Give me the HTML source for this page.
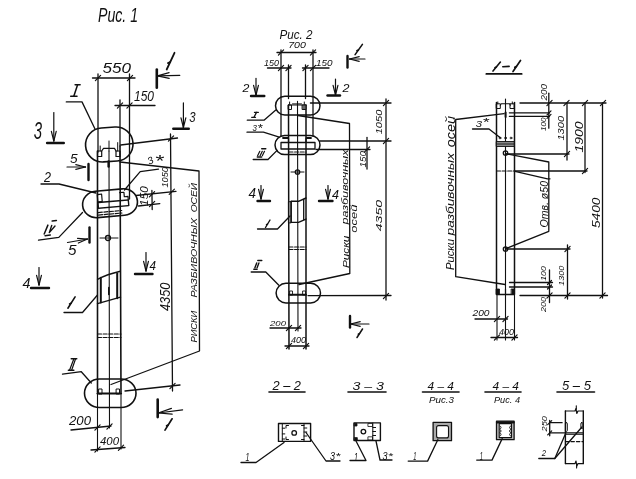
<!DOCTYPE html>
<html><head><meta charset="utf-8"><style>
html,body{margin:0;padding:0;background:#fff;}
body{width:636px;height:479px;overflow:hidden;}
svg{display:block;will-change:transform;}
svg text{font-family:"Liberation Sans",sans-serif;fill:#111;stroke:none;}
</style></head><body>
<svg width="636" height="479" viewBox="0 0 636 479" stroke="#111" stroke-linecap="round" stroke-linejoin="round" font-family="Liberation Sans, sans-serif">
<text x="98" y="22" font-size="21.01" textLength="40" lengthAdjust="spacingAndGlyphs" font-style="italic" font-weight="normal" font-family="Liberation Sans">Рис. 1</text>
<text x="102.5" y="72.5" font-size="14.49" textLength="28.5" lengthAdjust="spacingAndGlyphs" font-style="italic" font-weight="normal" font-family="Liberation Sans">550</text>
<line x1="92.5" y1="78" x2="135" y2="78" stroke-width="1.3"/>
<line x1="95.4" y1="80.6" x2="100.6" y2="75.4" stroke-width="1.2"/>
<line x1="127.4" y1="80.6" x2="132.6" y2="75.4" stroke-width="1.2"/>
<line x1="98" y1="74" x2="98" y2="152" stroke-width="1.3"/>
<line x1="129.5" y1="74" x2="129.5" y2="199" stroke-width="1.3"/>
<text x="134" y="101" font-size="13.77" textLength="20" lengthAdjust="spacingAndGlyphs" font-style="italic" font-weight="normal" font-family="Liberation Sans">150</text>
<line x1="115" y1="105.5" x2="155" y2="105.5" stroke-width="1.3"/>
<line x1="117.4" y1="108.1" x2="122.6" y2="102.9" stroke-width="1.2"/>
<line x1="126.9" y1="108.1" x2="132.1" y2="102.9" stroke-width="1.2"/>
<line x1="120" y1="100" x2="120" y2="146" stroke-width="1.3"/>
<line x1="75.1" y1="84.8" x2="80.1" y2="84.8" stroke-width="1.5"/>
<line x1="77.6" y1="84.8" x2="73.8" y2="96.3" stroke-width="1.5"/>
<line x1="70.7" y1="96.3" x2="77" y2="96.3" stroke-width="1.5"/>
<path d="M66.3,101.9 L82,101.9 L95,129" stroke-width="1.3" fill="none"/>
<g transform="rotate(-4 109 144)">
<rect x="85.5" y="127.5" width="47.5" height="34" rx="17" ry="17" stroke-width="1.6" fill="none"/>
</g>
<rect x="97.5" y="151" width="4.2" height="5.5" rx="0" stroke-width="1.2" fill="none"/>
<rect x="116" y="151" width="4" height="5.5" rx="0" stroke-width="1.2" fill="none"/>
<path d="M101.7,151 L103.5,148.4 L114.5,148.4 L116,151" stroke-width="1.2" fill="none"/>
<line x1="100.2" y1="146" x2="100.2" y2="151" stroke-width="1"/>
<line x1="117.7" y1="142.6" x2="117.7" y2="151" stroke-width="1"/>
<line x1="109" y1="141" x2="109" y2="151" stroke-width="1"/>
<line x1="97.5" y1="151" x2="97.5" y2="392" stroke-width="1.6"/>
<line x1="120" y1="146" x2="121" y2="392" stroke-width="1.6"/>
<line x1="109" y1="151" x2="109.5" y2="428" stroke-width="1.1"/>
<line x1="108.6" y1="161.5" x2="108.6" y2="166.5" stroke-width="2.4"/>
<line x1="120.7" y1="145" x2="177.5" y2="138" stroke-width="1.3"/>
<line x1="168.4" y1="141.1" x2="173.6" y2="135.9" stroke-width="1.2"/>
<line x1="170.5" y1="134" x2="172.5" y2="391" stroke-width="1.3"/>
<text x="168" y="187.6" font-size="9.71" textLength="20.5" lengthAdjust="spacingAndGlyphs" font-style="italic" font-weight="normal" transform="rotate(-90 168 187.6)">1050</text>
<line x1="136" y1="195.5" x2="176" y2="191.3" stroke-width="1.3"/>
<line x1="169.2" y1="194.3" x2="174.4" y2="189.1" stroke-width="1.2"/>
<text x="170" y="311" font-size="14.49" textLength="28.5" lengthAdjust="spacingAndGlyphs" font-style="italic" font-weight="normal" transform="rotate(-90 170 311)">4350</text>
<text x="147.6" y="163.8" font-size="9.86" textLength="5.6" lengthAdjust="spacingAndGlyphs" font-style="italic" font-weight="normal" font-family="Liberation Sans" transform="rotate(-25 150.4 160.3)">3</text>
<text x="154.6" y="166.56" font-size="17.38" textLength="9" lengthAdjust="spacingAndGlyphs" font-style="italic">*</text>
<path d="M124.5,190 L140.2,171.6 L158.5,169.2" stroke-width="1.3" fill="none"/>
<path d="M120,162 L199,171 L199.5,351 L111,384.5" stroke-width="1.3" fill="none"/>
<text x="197" y="342.6" font-size="8.5" textLength="31.9" lengthAdjust="spacingAndGlyphs" font-style="italic" transform="rotate(-90 197 342.6)">РИСКИ</text>
<text x="197" y="297.6" font-size="8.5" textLength="79.7" lengthAdjust="spacingAndGlyphs" font-style="italic" transform="rotate(-90 197 297.6)">РАЗБИВОЧНЫХ</text>
<text x="197" y="212.3" font-size="8.5" textLength="29.3" lengthAdjust="spacingAndGlyphs" font-style="italic" transform="rotate(-90 197 212.3)">ОСЕЙ</text>
<text x="33.8" y="138.8" font-size="24.2" textLength="8.3" lengthAdjust="spacingAndGlyphs" font-style="italic" font-weight="normal" font-family="Liberation Sans">3</text>
<line x1="53.8" y1="112.5" x2="53.8" y2="141" stroke-width="1.2"/>
<line x1="53.8" y1="141" x2="51.38" y2="131.3" stroke-width="1.2"/>
<line x1="53.8" y1="141" x2="56.22" y2="131.3" stroke-width="1.2"/>
<line x1="47.1" y1="143" x2="63.8" y2="143" stroke-width="2.4"/>
<line x1="183.4" y1="102.9" x2="183.4" y2="127.5" stroke-width="1.2"/>
<line x1="183.4" y1="127.5" x2="180.98" y2="117.8" stroke-width="1.2"/>
<line x1="183.4" y1="127.5" x2="185.82" y2="117.8" stroke-width="1.2"/>
<line x1="173.3" y1="128.8" x2="188.8" y2="128.8" stroke-width="2.4"/>
<text x="189.2" y="122.2" font-size="15.22" textLength="6.3" lengthAdjust="spacingAndGlyphs" font-style="italic" font-weight="normal" font-family="Liberation Sans">3</text>
<line x1="174.5" y1="52.8" x2="166.7" y2="69.5" stroke-width="1.8"/>
<line x1="170.21" y1="61.98" x2="168" y2="63.09" stroke-width="1.8"/>
<line x1="179.8" y1="75.3" x2="157.5" y2="75.8" stroke-width="1.2"/>
<line x1="157.5" y1="75.8" x2="169.08" y2="72.64" stroke-width="1.2"/>
<line x1="157.5" y1="75.8" x2="169.21" y2="78.44" stroke-width="1.2"/>
<line x1="156.8" y1="69.5" x2="156.8" y2="87.8" stroke-width="2.6"/>
<text x="70" y="162.6" font-size="12.75" textLength="7.6" lengthAdjust="spacingAndGlyphs" font-style="italic" font-weight="normal" font-family="Liberation Sans">5</text>
<line x1="67" y1="167" x2="85.5" y2="167" stroke-width="1.2"/>
<line x1="85.5" y1="167" x2="75.8" y2="169.42" stroke-width="1.2"/>
<line x1="85.5" y1="167" x2="75.8" y2="164.58" stroke-width="1.2"/>
<line x1="88.5" y1="164" x2="88.5" y2="180" stroke-width="2.4"/>
<text x="68" y="255" font-size="14.49" textLength="8.5" lengthAdjust="spacingAndGlyphs" font-style="italic" font-weight="normal" font-family="Liberation Sans">5</text>
<line x1="67.5" y1="242.5" x2="87.5" y2="239" stroke-width="1.2"/>
<line x1="87.5" y1="239" x2="78.36" y2="243.06" stroke-width="1.2"/>
<line x1="87.5" y1="239" x2="77.53" y2="238.29" stroke-width="1.2"/>
<line x1="89.5" y1="227.5" x2="89.5" y2="242.5" stroke-width="2.4"/>
<text x="44" y="182" font-size="14.49" textLength="7" lengthAdjust="spacingAndGlyphs" font-style="italic" font-weight="normal" font-family="Liberation Sans">2</text>
<path d="M41,184 L59,184 L96,193" stroke-width="1.3" fill="none"/>
<g transform="rotate(-5 110 203)">
<rect x="82.5" y="190" width="55" height="26.5" rx="14" ry="13.25" stroke-width="1.6" fill="none"/>
<rect x="98" y="201.5" width="30.5" height="5.7" rx="0" stroke-width="1.4" fill="none"/>
<rect x="98" y="193.5" width="4.4" height="7.3" rx="0" stroke-width="1.2" fill="none"/>
<path d="M120.5,193.5 L124.8,193.5 L124.8,198 L128.5,198 L128.5,201.5" stroke-width="1.2" fill="none"/>
<line x1="97.5" y1="211.5" x2="121" y2="211.5" stroke-width="1.2" stroke-dasharray="4 1.6"/>
<line x1="97.5" y1="214" x2="121" y2="214" stroke-width="1.2" stroke-dasharray="4 1.6"/>
</g>
<text x="148.5" y="205.9" font-size="11.01" textLength="19.6" lengthAdjust="spacingAndGlyphs" font-style="italic" font-weight="normal" transform="rotate(-90 148.5 205.9)">150</text>
<line x1="151.9" y1="190.5" x2="152.2" y2="209.5" stroke-width="1.3"/>
<line x1="149.4" y1="196.8" x2="154.6" y2="191.6" stroke-width="1.2"/>
<line x1="149.5" y1="206.6" x2="154.7" y2="201.4" stroke-width="1.2"/>
<line x1="138.5" y1="206" x2="159.8" y2="203.6" stroke-width="1.3"/>
<line x1="52.2" y1="221.1" x2="56.4" y2="220.4" stroke-width="1.5"/>
<line x1="47.9" y1="225.1" x2="44.2" y2="234" stroke-width="1.5"/>
<path d="M51.7,225.5 L49.3,232.6 L55,226" stroke-width="1.4" fill="none"/>
<line x1="45.1" y1="235.7" x2="50.3" y2="235" stroke-width="1.5"/>
<path d="M38.5,240.2 L58.8,237.4 L82.5,212.5" stroke-width="1.3" fill="none"/>
<circle cx="108" cy="238" r="2.5" stroke-width="1.3" fill="none"/>
<line x1="100" y1="238" x2="118" y2="238" stroke-width="1"/>
<text x="22.5" y="288" font-size="15.22" textLength="8" lengthAdjust="spacingAndGlyphs" font-style="italic" font-weight="normal" font-family="Liberation Sans">4</text>
<line x1="39" y1="267.5" x2="39" y2="285" stroke-width="1.2"/>
<line x1="39" y1="285" x2="36.58" y2="275.3" stroke-width="1.2"/>
<line x1="39" y1="285" x2="41.42" y2="275.3" stroke-width="1.2"/>
<line x1="31" y1="288" x2="49" y2="288" stroke-width="2.4"/>
<line x1="146" y1="252.5" x2="146" y2="271" stroke-width="1.2"/>
<line x1="146" y1="271" x2="143.58" y2="261.3" stroke-width="1.2"/>
<line x1="146" y1="271" x2="148.42" y2="261.3" stroke-width="1.2"/>
<line x1="135" y1="274" x2="152.5" y2="274" stroke-width="2.4"/>
<text x="149.5" y="270" font-size="13.04" textLength="6.5" lengthAdjust="spacingAndGlyphs" font-style="italic" font-weight="normal" font-family="Liberation Sans">4</text>
<path d="M97.5,279.3 Q107,274.5 120.3,271.3" stroke-width="1.4" fill="none"/>
<line x1="100.8" y1="277.7" x2="100.8" y2="302.6" stroke-width="2"/>
<line x1="117.2" y1="273.5" x2="117.2" y2="298.3" stroke-width="2"/>
<line x1="97.5" y1="303.6" x2="120.5" y2="297.2" stroke-width="1.4"/>
<line x1="108.8" y1="287.5" x2="108.8" y2="294.5" stroke-width="1.6"/>
<line x1="75.1" y1="296.9" x2="67.9" y2="308.2" stroke-width="1.6"/>
<line x1="71.14" y1="303.12" x2="69.53" y2="303.92" stroke-width="1.6"/>
<path d="M64,312.5 L82.5,312.5 L97.5,295" stroke-width="1.3" fill="none"/>
<line x1="97.5" y1="334" x2="121" y2="334" stroke-width="1.2" stroke-dasharray="4 1.6"/>
<line x1="97.5" y1="337.5" x2="121" y2="337.5" stroke-width="1.2" stroke-dasharray="4 1.6"/>
<rect x="84.5" y="379" width="51.5" height="28.5" rx="15" ry="14.25" stroke-width="1.6" fill="none"/>
<line x1="97.5" y1="393.5" x2="121" y2="393.5" stroke-width="2.2"/>
<rect x="99" y="389" width="3" height="5" rx="0" stroke-width="1" fill="none"/>
<rect x="116.5" y="389" width="3" height="5" rx="0" stroke-width="1" fill="none"/>
<line x1="109.5" y1="384" x2="109.5" y2="392" stroke-width="1"/>
<line x1="71.3" y1="358.8" x2="76.7" y2="358.8" stroke-width="1.6"/>
<line x1="73.8" y1="359" x2="69.6" y2="370" stroke-width="1.2"/>
<line x1="75.5" y1="359" x2="71.7" y2="370" stroke-width="1.2"/>
<line x1="68.4" y1="370.2" x2="73.8" y2="370.2" stroke-width="1.6"/>
<path d="M62.5,374.2 L81.3,371.7 L91.3,383" stroke-width="1.3" fill="none"/>
<line x1="125" y1="391" x2="180" y2="385" stroke-width="1.3"/>
<line x1="169.9" y1="388.6" x2="175.1" y2="383.4" stroke-width="1.2"/>
<line x1="97.5" y1="392" x2="97.5" y2="451" stroke-width="1.1"/>
<line x1="121" y1="392" x2="121" y2="449" stroke-width="1.1"/>
<text x="69" y="425" font-size="13.04" textLength="22" lengthAdjust="spacingAndGlyphs" font-style="italic" font-weight="normal" font-family="Liberation Sans">200</text>
<line x1="71" y1="430" x2="111" y2="426" stroke-width="1.3"/>
<line x1="94.9" y1="430.1" x2="100.1" y2="424.9" stroke-width="1.2"/>
<line x1="106.9" y1="429.1" x2="112.1" y2="423.9" stroke-width="1.2"/>
<text x="100" y="445" font-size="11.59" textLength="19" lengthAdjust="spacingAndGlyphs" font-style="italic" font-weight="normal" font-family="Liberation Sans">400</text>
<line x1="91" y1="450" x2="125" y2="447.5" stroke-width="1.3"/>
<line x1="94.9" y1="452.1" x2="100.1" y2="446.9" stroke-width="1.2"/>
<line x1="118.4" y1="450.3" x2="123.6" y2="445.1" stroke-width="1.2"/>
<line x1="157.7" y1="399.6" x2="157.7" y2="417.1" stroke-width="2.6"/>
<line x1="182.6" y1="409.9" x2="158.2" y2="413" stroke-width="1.2"/>
<line x1="158.2" y1="413" x2="171.42" y2="408.39" stroke-width="1.2"/>
<line x1="158.2" y1="413" x2="172.15" y2="414.16" stroke-width="1.2"/>
<line x1="172.1" y1="418.8" x2="165" y2="430.1" stroke-width="1.7"/>
<line x1="168.19" y1="425.02" x2="166.59" y2="425.82" stroke-width="1.7"/>
<text x="279.5" y="39" font-size="13.04" textLength="33" lengthAdjust="spacingAndGlyphs" font-style="italic" font-weight="normal" font-family="Liberation Sans">Рис. 2</text>
<text x="288.2" y="48.3" font-size="8.41" textLength="17.7" lengthAdjust="spacingAndGlyphs" font-style="italic" font-weight="normal" font-family="Liberation Sans">700</text>
<line x1="277" y1="52.5" x2="316" y2="52.5" stroke-width="1.3"/>
<line x1="278.4" y1="55.1" x2="283.6" y2="49.9" stroke-width="1.2"/>
<line x1="310.4" y1="55.1" x2="315.6" y2="49.9" stroke-width="1.2"/>
<line x1="281" y1="50" x2="281" y2="136" stroke-width="1.3"/>
<line x1="313" y1="50" x2="313" y2="136" stroke-width="1.3"/>
<text x="264" y="66" font-size="9.42" textLength="15" lengthAdjust="spacingAndGlyphs" font-style="italic" font-weight="normal" font-family="Liberation Sans">150</text>
<text x="316" y="66" font-size="9.42" textLength="16.5" lengthAdjust="spacingAndGlyphs" font-style="italic" font-weight="normal" font-family="Liberation Sans">150</text>
<line x1="267.5" y1="68" x2="291" y2="68" stroke-width="1.3"/>
<line x1="302.5" y1="68" x2="329" y2="68" stroke-width="1.3"/>
<line x1="278.4" y1="70.6" x2="283.6" y2="65.4" stroke-width="1.2"/>
<line x1="285.9" y1="70.6" x2="291.1" y2="65.4" stroke-width="1.2"/>
<line x1="302.9" y1="70.6" x2="308.1" y2="65.4" stroke-width="1.2"/>
<line x1="310.4" y1="70.6" x2="315.6" y2="65.4" stroke-width="1.2"/>
<line x1="288.5" y1="65" x2="288.5" y2="98.5" stroke-width="1.3"/>
<line x1="288.5" y1="105" x2="289" y2="349" stroke-width="1.5"/>
<line x1="305.5" y1="65" x2="305.5" y2="98.5" stroke-width="1.3"/>
<line x1="306" y1="105" x2="306" y2="349" stroke-width="1.5"/>
<line x1="297.5" y1="101.4" x2="298" y2="331" stroke-width="1.1"/>
<rect x="275.5" y="96.3" width="44.5" height="18.7" rx="9.35" ry="9.35" stroke-width="1.5" fill="none"/>
<line x1="288.5" y1="105" x2="306" y2="105" stroke-width="1.2"/>
<rect x="288.5" y="105" width="3" height="4.5" rx="0" stroke-width="1" fill="none"/>
<rect x="302.5" y="105" width="3.5" height="4.5" rx="0" stroke-width="1" fill="#666"/>
<line x1="292.5" y1="103.9" x2="301.5" y2="103.9" stroke-width="1"/>
<line x1="289.6" y1="102" x2="289.6" y2="104.5" stroke-width="1"/>
<line x1="304.3" y1="102" x2="304.3" y2="104.5" stroke-width="1"/>
<text x="242.6" y="92" font-size="11.59" textLength="6.9" lengthAdjust="spacingAndGlyphs" font-style="italic" font-weight="normal" font-family="Liberation Sans">2</text>
<line x1="256" y1="78.4" x2="256" y2="95" stroke-width="1.2"/>
<line x1="256" y1="95" x2="253.58" y2="85.3" stroke-width="1.2"/>
<line x1="256" y1="95" x2="258.42" y2="85.3" stroke-width="1.2"/>
<line x1="251" y1="96" x2="264.3" y2="96" stroke-width="2.4"/>
<line x1="335.5" y1="79" x2="335.5" y2="95" stroke-width="1.2"/>
<line x1="335.5" y1="95" x2="333.08" y2="85.3" stroke-width="1.2"/>
<line x1="335.5" y1="95" x2="337.92" y2="85.3" stroke-width="1.2"/>
<line x1="327.5" y1="95.5" x2="340" y2="95.5" stroke-width="2.4"/>
<text x="342.5" y="92" font-size="11.59" textLength="7" lengthAdjust="spacingAndGlyphs" font-style="italic" font-weight="normal" font-family="Liberation Sans">2</text>
<line x1="362.4" y1="44.4" x2="355.1" y2="54.6" stroke-width="1.6"/>
<line x1="358.38" y1="50.01" x2="356.88" y2="50.76" stroke-width="1.6"/>
<line x1="365" y1="59" x2="349.5" y2="59" stroke-width="1.2"/>
<line x1="349.5" y1="59" x2="359.2" y2="56.58" stroke-width="1.2"/>
<line x1="349.5" y1="59" x2="359.2" y2="61.42" stroke-width="1.2"/>
<line x1="347.5" y1="56" x2="347.5" y2="67.5" stroke-width="2.4"/>
<line x1="254.5" y1="112.4" x2="258.3" y2="112.4" stroke-width="1.3"/>
<line x1="256.5" y1="112.4" x2="254" y2="117.3" stroke-width="1.3"/>
<line x1="251.7" y1="117.3" x2="255.5" y2="117.3" stroke-width="1.3"/>
<path d="M247.3,120.2 L264,120.2 L275.5,110.2" stroke-width="1.3" fill="none"/>
<text x="252.4" y="131.4" font-size="9.42" textLength="4.4" lengthAdjust="spacingAndGlyphs" font-style="italic" font-weight="normal" font-family="Liberation Sans">3</text>
<text x="257.3" y="132.05" font-size="10.54" textLength="5.2" lengthAdjust="spacingAndGlyphs" font-style="italic">*</text>
<path d="M247,132.2 L263.4,132.2 L278.5,136.8" stroke-width="1.3" fill="none"/>
<line x1="310.4" y1="103" x2="391" y2="103" stroke-width="1.3"/>
<line x1="383.4" y1="105.6" x2="388.6" y2="100.4" stroke-width="1.2"/>
<line x1="386" y1="99" x2="386" y2="300" stroke-width="1.3"/>
<text x="381.7" y="134.3" font-size="9.42" textLength="24.7" lengthAdjust="spacingAndGlyphs" font-style="italic" font-weight="normal" transform="rotate(-90 381.7 134.3)">1050</text>
<path d="M298,115.5 L349.5,123.5 L349.8,273.5 L299,284.5" stroke-width="1.3" fill="none"/>
<rect x="275" y="135.5" width="45" height="19" rx="9.5" ry="9.5" stroke-width="1.5" fill="none"/>
<rect x="281" y="142.5" width="34" height="6.5" rx="0" stroke-width="1.3" fill="none"/>
<line x1="283" y1="138" x2="288" y2="138" stroke-width="1.8"/>
<line x1="306.8" y1="138" x2="311" y2="138" stroke-width="1.8"/>
<line x1="288.5" y1="138" x2="288.5" y2="142.5" stroke-width="1.2"/>
<line x1="306" y1="138" x2="306" y2="142.5" stroke-width="1.2"/>
<line x1="320" y1="141" x2="391" y2="141" stroke-width="1.3"/>
<line x1="383.4" y1="143.6" x2="388.6" y2="138.4" stroke-width="1.2"/>
<line x1="316" y1="149.5" x2="370" y2="149.5" stroke-width="1.3"/>
<line x1="364.4" y1="152.1" x2="369.6" y2="146.9" stroke-width="1.2"/>
<line x1="367" y1="137.5" x2="367" y2="169" stroke-width="1.3"/>
<text x="366" y="167.5" font-size="8.7" textLength="16.5" lengthAdjust="spacingAndGlyphs" font-style="italic" font-weight="normal" transform="rotate(-90 366 167.5)">150</text>
<line x1="289" y1="152" x2="306" y2="152" stroke-width="1.2" stroke-dasharray="4 1.6"/>
<line x1="261.7" y1="148.8" x2="265.8" y2="148.8" stroke-width="1.4"/>
<line x1="259.8" y1="151.3" x2="257.6" y2="155.7" stroke-width="1.2"/>
<line x1="262.3" y1="151.3" x2="260.1" y2="155.7" stroke-width="1.2"/>
<line x1="264.5" y1="151.3" x2="262.3" y2="155.7" stroke-width="1.2"/>
<line x1="257.3" y1="157" x2="261.7" y2="157" stroke-width="1.4"/>
<path d="M253.2,159.5 L268,159.5 L277.1,150.4" stroke-width="1.3" fill="none"/>
<circle cx="297.5" cy="172" r="2.2" stroke-width="1.3" fill="none"/>
<line x1="291" y1="172" x2="304" y2="172" stroke-width="1"/>
<text x="248.5" y="197.8" font-size="13.77" textLength="7.5" lengthAdjust="spacingAndGlyphs" font-style="italic" font-weight="normal" font-family="Liberation Sans">4</text>
<line x1="261" y1="185.5" x2="261" y2="199" stroke-width="1.2"/>
<line x1="261" y1="199" x2="258.58" y2="189.3" stroke-width="1.2"/>
<line x1="261" y1="199" x2="263.42" y2="189.3" stroke-width="1.2"/>
<line x1="257.5" y1="201" x2="270" y2="201" stroke-width="2.4"/>
<line x1="328" y1="185.5" x2="328" y2="199" stroke-width="1.2"/>
<line x1="328" y1="199" x2="325.58" y2="189.3" stroke-width="1.2"/>
<line x1="328" y1="199" x2="330.42" y2="189.3" stroke-width="1.2"/>
<line x1="319" y1="201" x2="332.5" y2="201" stroke-width="2.4"/>
<text x="332" y="198.5" font-size="13.04" textLength="7" lengthAdjust="spacingAndGlyphs" font-style="italic" font-weight="normal" font-family="Liberation Sans">4</text>
<rect x="288.8" y="201.7" width="2.4" height="21.2" rx="0" stroke-width="0.9" fill="#888"/>
<path d="M291.2,201.3 L298.5,201.3 L306,198" stroke-width="1.4" fill="none"/>
<path d="M291.2,222.4 L298.5,222.4 L306,219.1" stroke-width="1.4" fill="none"/>
<line x1="291.2" y1="201.3" x2="291.2" y2="222.4" stroke-width="1.3"/>
<line x1="303.7" y1="199.5" x2="303.7" y2="219.5" stroke-width="1.3"/>
<line x1="270" y1="220" x2="265.5" y2="227.5" stroke-width="1.4"/>
<line x1="267.52" y1="224.12" x2="266.48" y2="224.65" stroke-width="1.4"/>
<path d="M257.5,229 L277.5,229 L290,216" stroke-width="1.3" fill="none"/>
<text x="381.7" y="231.3" font-size="9.71" textLength="31.4" lengthAdjust="spacingAndGlyphs" font-style="italic" font-weight="normal" transform="rotate(-90 381.7 231.3)">4350</text>
<text x="348.6" y="268.1" font-size="9.5" textLength="32.5" lengthAdjust="spacingAndGlyphs" font-style="italic" transform="rotate(-90 348.6 268.1)">Риски</text>
<text x="347.6" y="224.4" font-size="9.2" textLength="75" lengthAdjust="spacingAndGlyphs" font-style="italic" transform="rotate(-90 347.6 224.4)">разбивочных</text>
<text x="357" y="232.7" font-size="9.5" textLength="28.1" lengthAdjust="spacingAndGlyphs" font-style="italic" transform="rotate(-90 357 232.7)">осей</text>
<line x1="289" y1="247" x2="306" y2="247" stroke-width="1.2" stroke-dasharray="4 1.6"/>
<line x1="289" y1="249.5" x2="306" y2="249.5" stroke-width="1.2" stroke-dasharray="4 1.6"/>
<rect x="276.1" y="283.3" width="44.4" height="19.6" rx="9.8" ry="9.8" stroke-width="1.5" fill="none"/>
<line x1="289" y1="294.8" x2="306" y2="294.8" stroke-width="2"/>
<rect x="290" y="291" width="2.5" height="4" rx="0" stroke-width="0.9" fill="none"/>
<rect x="303" y="291" width="2.5" height="4" rx="0" stroke-width="0.9" fill="none"/>
<line x1="257.8" y1="260.5" x2="261.8" y2="260.5" stroke-width="1.4"/>
<line x1="256.7" y1="263" x2="254.9" y2="267.8" stroke-width="1.4"/>
<line x1="258.9" y1="263" x2="257.1" y2="267.8" stroke-width="1.4"/>
<line x1="253.8" y1="269.3" x2="257.1" y2="269.3" stroke-width="1.4"/>
<path d="M251.2,272 L265.8,272 L278.6,285" stroke-width="1.3" fill="none"/>
<line x1="308" y1="295.6" x2="391" y2="295.5" stroke-width="1.3"/>
<line x1="383.4" y1="298.6" x2="388.6" y2="293.4" stroke-width="1.2"/>
<line x1="350" y1="316" x2="350" y2="327.5" stroke-width="2.4"/>
<line x1="369" y1="324" x2="350.5" y2="324" stroke-width="1.2"/>
<line x1="350.5" y1="324" x2="360.2" y2="321.58" stroke-width="1.2"/>
<line x1="350.5" y1="324" x2="360.2" y2="326.42" stroke-width="1.2"/>
<line x1="362.5" y1="329" x2="357" y2="337.5" stroke-width="1.5"/>
<line x1="359.48" y1="333.68" x2="358.26" y2="334.28" stroke-width="1.5"/>
<text x="270" y="326" font-size="7.97" textLength="16" lengthAdjust="spacingAndGlyphs" font-style="italic" font-weight="normal" font-family="Liberation Sans">200</text>
<line x1="270" y1="328" x2="301" y2="328" stroke-width="1.3"/>
<line x1="286.4" y1="330.6" x2="291.6" y2="325.4" stroke-width="1.2"/>
<line x1="295.4" y1="330.6" x2="300.6" y2="325.4" stroke-width="1.2"/>
<text x="291" y="342.5" font-size="9.42" textLength="15" lengthAdjust="spacingAndGlyphs" font-style="italic" font-weight="normal" font-family="Liberation Sans">400</text>
<line x1="285" y1="346" x2="309" y2="346" stroke-width="1.3"/>
<line x1="286.4" y1="348.6" x2="291.6" y2="343.4" stroke-width="1.2"/>
<line x1="303.4" y1="348.6" x2="308.6" y2="343.4" stroke-width="1.2"/>
<line x1="500.4" y1="62.1" x2="493" y2="71.1" stroke-width="1.6"/>
<line x1="496.33" y1="67.05" x2="494.93" y2="67.75" stroke-width="1.6"/>
<line x1="502.8" y1="66.8" x2="509.1" y2="66.4" stroke-width="1.6"/>
<line x1="520.5" y1="60.5" x2="513" y2="71.5" stroke-width="1.7"/>
<line x1="516.38" y1="66.55" x2="514.78" y2="67.35" stroke-width="1.7"/>
<line x1="486.3" y1="73.9" x2="521.7" y2="73.9" stroke-width="1.7"/>
<line x1="496.5" y1="102.5" x2="496.5" y2="294" stroke-width="1.5"/>
<line x1="514.5" y1="102.5" x2="514.5" y2="294" stroke-width="1.5"/>
<rect x="496.6" y="103.8" width="3.7" height="4.7" rx="0" stroke-width="1" fill="none"/>
<rect x="510.4" y="103.8" width="3.8" height="4.7" rx="0" stroke-width="1" fill="none"/>
<path d="M500.3,105.2 L501.2,103.8 L509.6,103.8 L510.4,105.2" stroke-width="1.1" fill="none"/>
<line x1="497.8" y1="101.9" x2="497.8" y2="103.8" stroke-width="1"/>
<line x1="512.3" y1="101.9" x2="512.3" y2="103.8" stroke-width="1"/>
<line x1="505.6" y1="112.5" x2="505.6" y2="117" stroke-width="2"/>
<line x1="505.5" y1="99" x2="505.5" y2="340" stroke-width="1.1"/>
<line x1="520" y1="103" x2="606" y2="103" stroke-width="1.3"/>
<line x1="546.9" y1="105.6" x2="552.1" y2="100.4" stroke-width="1.2"/>
<line x1="563.9" y1="105.6" x2="569.1" y2="100.4" stroke-width="1.2"/>
<line x1="582.4" y1="105.6" x2="587.6" y2="100.4" stroke-width="1.2"/>
<line x1="600.4" y1="105.6" x2="605.6" y2="100.4" stroke-width="1.2"/>
<line x1="548.8" y1="93.2" x2="548.8" y2="128.2" stroke-width="1.3"/>
<line x1="567" y1="103" x2="567" y2="160" stroke-width="1.3"/>
<line x1="585" y1="103" x2="585" y2="172.5" stroke-width="1.3"/>
<line x1="602.5" y1="103" x2="602.5" y2="298" stroke-width="1.3"/>
<text x="547" y="100.6" font-size="9.57" textLength="16.6" lengthAdjust="spacingAndGlyphs" font-style="italic" font-weight="normal" transform="rotate(-90 547 100.6)">200</text>
<text x="546" y="131" font-size="7.25" textLength="13.5" lengthAdjust="spacingAndGlyphs" font-style="italic" font-weight="normal" transform="rotate(-90 546 131)">100</text>
<text x="564.4" y="140.6" font-size="9.28" textLength="24.7" lengthAdjust="spacingAndGlyphs" font-style="italic" font-weight="normal" transform="rotate(-90 564.4 140.6)">1300</text>
<text x="582.7" y="152.6" font-size="10" textLength="31" lengthAdjust="spacingAndGlyphs" font-style="italic" font-weight="normal" transform="rotate(-90 582.7 152.6)">1900</text>
<text x="600" y="228.1" font-size="11.59" textLength="30.5" lengthAdjust="spacingAndGlyphs" font-style="italic" font-weight="normal" transform="rotate(-90 600 228.1)">5400</text>
<line x1="509.4" y1="112.8" x2="549.5" y2="112.8" stroke-width="1.3"/>
<line x1="509.4" y1="116.4" x2="549.5" y2="116.4" stroke-width="1.3"/>
<line x1="547" y1="114.8" x2="551" y2="110.8" stroke-width="1.2"/>
<line x1="547" y1="118.4" x2="551" y2="114.4" stroke-width="1.2"/>
<line x1="505.5" y1="154" x2="569" y2="154" stroke-width="1.3"/>
<line x1="564.4" y1="156.6" x2="569.6" y2="151.4" stroke-width="1.2"/>
<line x1="514.5" y1="171" x2="587" y2="171" stroke-width="1.3"/>
<line x1="582.4" y1="173.6" x2="587.6" y2="168.4" stroke-width="1.2"/>
<circle cx="505.5" cy="153" r="2.2" stroke-width="1.3" fill="none"/>
<circle cx="505.5" cy="249" r="2.2" stroke-width="1.3" fill="none"/>
<line x1="505.5" y1="249" x2="570" y2="249" stroke-width="1.3"/>
<line x1="564.9" y1="251.6" x2="570.1" y2="246.4" stroke-width="1.2"/>
<line x1="496.5" y1="171" x2="514.5" y2="171" stroke-width="1.2" stroke-dasharray="4 1.6"/>
<path d="M505.5,153.7 L548.8,162 L548.8,231.3 L505.5,248.8" stroke-width="1.3" fill="none"/>
<path d="M515,171.3 L547.5,178.8 L550,178.8" stroke-width="1.3" fill="none"/>
<text x="547.5" y="227.5" font-size="10.87" textLength="46.5" lengthAdjust="spacingAndGlyphs" font-style="italic" font-weight="normal" transform="rotate(-90 547.5 227.5)">Отв. ø50</text>
<circle cx="500" cy="138" r="0.9" stroke-width="0.9" fill="none"/>
<circle cx="505.5" cy="138" r="0.9" stroke-width="0.9" fill="none"/>
<circle cx="511" cy="138" r="0.9" stroke-width="0.9" fill="none"/>
<rect x="496.6" y="141.5" width="17.6" height="5" rx="0" stroke-width="0.9" fill="#888"/>
<line x1="496.6" y1="144" x2="514.2" y2="144" stroke-width="0.8"/>
<text x="475.8" y="127.3" font-size="9.42" textLength="6.3" lengthAdjust="spacingAndGlyphs" font-style="italic" font-weight="normal" font-family="Liberation Sans">3</text>
<text x="482.3" y="125.94" font-size="11.11" textLength="6.7" lengthAdjust="spacingAndGlyphs" font-style="italic">*</text>
<path d="M472.5,129 L489,129 L500,137.5" stroke-width="1.3" fill="none"/>
<path d="M504.1,113.6 L455.7,119.5 L455.7,276.7 L505,284.5" stroke-width="1.3" fill="none"/>
<text x="454.5" y="270.1" font-size="10.5" textLength="31" lengthAdjust="spacingAndGlyphs" font-style="italic" transform="rotate(-90 454.5 270.1)">Риски</text>
<text x="454.5" y="235.4" font-size="10.5" textLength="82.5" lengthAdjust="spacingAndGlyphs" font-style="italic" transform="rotate(-90 454.5 235.4)">разбивочных</text>
<text x="454.7" y="147.3" font-size="12" textLength="31.3" lengthAdjust="spacingAndGlyphs" font-style="italic" transform="rotate(-90 454.7 147.3)">осей</text>
<line x1="549.5" y1="270" x2="549.5" y2="302.5" stroke-width="1.3"/>
<line x1="567.5" y1="245" x2="567.5" y2="299" stroke-width="1.3"/>
<line x1="509.5" y1="282.5" x2="552.5" y2="282.5" stroke-width="1.3"/>
<line x1="509.5" y1="287" x2="552.5" y2="287" stroke-width="1.3"/>
<line x1="547.5" y1="284.5" x2="551.5" y2="280.5" stroke-width="1.2"/>
<line x1="547.5" y1="289" x2="551.5" y2="285" stroke-width="1.2"/>
<line x1="520" y1="295.5" x2="607.5" y2="295.5" stroke-width="1.3"/>
<line x1="546.9" y1="298.1" x2="552.1" y2="292.9" stroke-width="1.2"/>
<line x1="564.9" y1="298.1" x2="570.1" y2="292.9" stroke-width="1.2"/>
<line x1="599.9" y1="298.1" x2="605.1" y2="292.9" stroke-width="1.2"/>
<text x="546.3" y="280.7" font-size="8.12" textLength="14.4" lengthAdjust="spacingAndGlyphs" font-style="italic" font-weight="normal" transform="rotate(-90 546.3 280.7)">100</text>
<text x="546.3" y="312" font-size="8.12" textLength="15" lengthAdjust="spacingAndGlyphs" font-style="italic" font-weight="normal" transform="rotate(-90 546.3 312)">200</text>
<text x="563.8" y="285.7" font-size="8.12" textLength="20" lengthAdjust="spacingAndGlyphs" font-style="italic" font-weight="normal" transform="rotate(-90 563.8 285.7)">1300</text>
<rect x="496.5" y="289" width="3" height="5.5" rx="0" stroke-width="0.8" fill="#111"/>
<rect x="511.5" y="289" width="3" height="5.5" rx="0" stroke-width="0.8" fill="#111"/>
<line x1="496.5" y1="294.5" x2="514.5" y2="294.5" stroke-width="1.4"/>
<line x1="505.5" y1="289" x2="505.5" y2="294.5" stroke-width="1.2"/>
<text x="472.5" y="316.2" font-size="8.7" textLength="17" lengthAdjust="spacingAndGlyphs" font-style="italic" font-weight="normal" font-family="Liberation Sans">200</text>
<line x1="475" y1="319" x2="507.5" y2="319" stroke-width="1.3"/>
<line x1="494.4" y1="321.6" x2="499.6" y2="316.4" stroke-width="1.2"/>
<line x1="502.9" y1="321.6" x2="508.1" y2="316.4" stroke-width="1.2"/>
<text x="499" y="335" font-size="8.7" textLength="15" lengthAdjust="spacingAndGlyphs" font-style="italic" font-weight="normal" font-family="Liberation Sans">400</text>
<line x1="491" y1="337.5" x2="517.5" y2="337.5" stroke-width="1.3"/>
<line x1="494.4" y1="340.1" x2="499.6" y2="334.9" stroke-width="1.2"/>
<line x1="511.9" y1="340.1" x2="517.1" y2="334.9" stroke-width="1.2"/>
<line x1="497" y1="295" x2="497" y2="340" stroke-width="1.1"/>
<line x1="514.5" y1="295" x2="514.5" y2="340" stroke-width="1.1"/>
<text x="272.5" y="389.5" font-size="12.32" textLength="28.5" lengthAdjust="spacingAndGlyphs" font-style="italic" font-weight="normal" font-family="Liberation Sans">2 – 2</text>
<line x1="269" y1="392" x2="305" y2="392" stroke-width="1.6"/>
<rect x="278.5" y="423.5" width="32.1" height="17.9" rx="0" stroke-width="1.4" fill="none"/>
<line x1="282.3" y1="423.5" x2="282.3" y2="441.4" stroke-width="1"/>
<line x1="304" y1="423.5" x2="304" y2="441.4" stroke-width="1"/>
<circle cx="294.2" cy="432.9" r="2.3" stroke-width="1.3" fill="none"/>
<line x1="282.3" y1="428.2" x2="284.8" y2="428.2" stroke-width="1"/>
<line x1="282.3" y1="433.9" x2="284.8" y2="433.9" stroke-width="1"/>
<line x1="282.3" y1="439" x2="284.8" y2="439" stroke-width="1"/>
<line x1="304" y1="428" x2="306.8" y2="428" stroke-width="1"/>
<line x1="304" y1="432" x2="306.8" y2="432" stroke-width="1"/>
<line x1="304" y1="436" x2="306.8" y2="436" stroke-width="1"/>
<path d="M286,428 L286,425.5 L288.5,425.5" stroke-width="1" fill="none"/>
<path d="M286,437 L286,439.5 L288.5,439.5" stroke-width="1" fill="none"/>
<line x1="301.5" y1="425.5" x2="304" y2="425.5" stroke-width="1"/>
<line x1="301.5" y1="439.5" x2="304" y2="439.5" stroke-width="1"/>
<text x="245.5" y="461" font-size="10.14" textLength="4" lengthAdjust="spacingAndGlyphs" font-style="italic" font-weight="normal" font-family="Liberation Sans">1</text>
<path d="M241,462.5 L256,462.5 L284,442.5" stroke-width="1.3" fill="none"/>
<path d="M306,432.5 L326,461 L340,461" stroke-width="1.3" fill="none"/>
<text x="330" y="460" font-size="10.14" textLength="5" lengthAdjust="spacingAndGlyphs" font-style="italic" font-weight="normal" font-family="Liberation Sans">3</text>
<text x="335.3" y="459.36" font-size="9.97" textLength="5.2" lengthAdjust="spacingAndGlyphs" font-style="italic">*</text>
<text x="352.5" y="389.5" font-size="11.59" textLength="31.5" lengthAdjust="spacingAndGlyphs" font-style="italic" font-weight="normal" font-family="Liberation Sans">3 – 3</text>
<line x1="348" y1="392" x2="386" y2="392" stroke-width="1.6"/>
<rect x="354" y="422.9" width="26.4" height="17.6" rx="0" stroke-width="1.4" fill="none"/>
<line x1="372.8" y1="422.9" x2="372.8" y2="440.5" stroke-width="1"/>
<circle cx="363.4" cy="431.6" r="2.3" stroke-width="1.3" fill="none"/>
<line x1="372.8" y1="427.5" x2="375.6" y2="427.5" stroke-width="1"/>
<line x1="372.8" y1="431.5" x2="375.6" y2="431.5" stroke-width="1"/>
<line x1="372.8" y1="435.5" x2="375.6" y2="435.5" stroke-width="1"/>
<rect x="354.5" y="423.4" width="2.5" height="2.6" rx="0" stroke-width="0.8" fill="#111"/>
<rect x="354.5" y="437.6" width="2.8" height="2.4" rx="0" stroke-width="0.8" fill="#111"/>
<rect x="368.3" y="423.4" width="4.2" height="3.1" rx="0" stroke-width="0.8" fill="none"/>
<rect x="368.3" y="436.8" width="4.2" height="3.2" rx="0" stroke-width="0.8" fill="none"/>
<text x="354" y="461" font-size="10.14" textLength="4" lengthAdjust="spacingAndGlyphs" font-style="italic" font-weight="normal" font-family="Liberation Sans">1</text>
<path d="M350,460.5 L366,460.5 L356,441" stroke-width="1.3" fill="none"/>
<path d="M376,441 L380,460 L392,460" stroke-width="1.3" fill="none"/>
<text x="382.5" y="460" font-size="10.14" textLength="5" lengthAdjust="spacingAndGlyphs" font-style="italic" font-weight="normal" font-family="Liberation Sans">3</text>
<text x="387.8" y="459.36" font-size="9.97" textLength="5.2" lengthAdjust="spacingAndGlyphs" font-style="italic">*</text>
<text x="427.5" y="389.5" font-size="11.59" textLength="26.5" lengthAdjust="spacingAndGlyphs" font-style="italic" font-weight="normal" font-family="Liberation Sans">4 – 4</text>
<line x1="422.5" y1="392" x2="459" y2="392" stroke-width="1.6"/>
<text x="429" y="402.5" font-size="9.42" textLength="25" lengthAdjust="spacingAndGlyphs" font-style="italic" font-weight="normal" font-family="Liberation Sans">Рис.3</text>
<rect x="433.1" y="422.3" width="18.4" height="18.4" rx="0" stroke-width="1.3" fill="#aaa"/>
<rect x="436.6" y="425.6" width="11.9" height="12.3" rx="2" stroke-width="1.1" fill="#fff"/>
<text x="413.3" y="460.1" font-size="11.59" textLength="3.2" lengthAdjust="spacingAndGlyphs" font-style="italic" font-weight="normal" font-family="Liberation Sans">1</text>
<path d="M408.2,461.1 L427.6,461.1 L437.8,439.7" stroke-width="1.3" fill="none"/>
<text x="492.5" y="389.5" font-size="11.59" textLength="26.5" lengthAdjust="spacingAndGlyphs" font-style="italic" font-weight="normal" font-family="Liberation Sans">4 – 4</text>
<line x1="485" y1="392" x2="521" y2="392" stroke-width="1.6"/>
<text x="494" y="402.5" font-size="9.42" textLength="26" lengthAdjust="spacingAndGlyphs" font-style="italic" font-weight="normal" font-family="Liberation Sans">Рис. 4</text>
<rect x="496.5" y="421.2" width="17.6" height="18.5" rx="0" stroke-width="1.3" fill="#bbb"/>
<line x1="497" y1="422.4" x2="513.6" y2="422.4" stroke-width="2.2"/>
<rect x="499.2" y="423.6" width="12.3" height="14" rx="0" stroke-width="1.1" fill="#fff"/>
<path d="M500,426 a1.6,1.6 0 0 1 0,3" stroke-width="0.9" fill="none"/>
<path d="M510.6,426 a1.6,1.6 0 0 0 0,3" stroke-width="0.9" fill="none"/>
<path d="M500,429.5 a1.6,1.6 0 0 1 0,3" stroke-width="0.9" fill="none"/>
<path d="M510.6,429.5 a1.6,1.6 0 0 0 0,3" stroke-width="0.9" fill="none"/>
<path d="M500,433 a1.6,1.6 0 0 1 0,3" stroke-width="0.9" fill="none"/>
<path d="M510.6,433 a1.6,1.6 0 0 0 0,3" stroke-width="0.9" fill="none"/>
<text x="479.8" y="460" font-size="11.59" textLength="3.2" lengthAdjust="spacingAndGlyphs" font-style="italic" font-weight="normal" font-family="Liberation Sans">1</text>
<path d="M476.7,460.1 L492,460.1 L502.2,438.6" stroke-width="1.3" fill="none"/>
<text x="562" y="389.5" font-size="12.32" textLength="29" lengthAdjust="spacingAndGlyphs" font-style="italic" font-weight="normal" font-family="Liberation Sans">5 – 5</text>
<line x1="557" y1="392" x2="594.5" y2="392" stroke-width="1.6"/>
<line x1="565.4" y1="411" x2="565.4" y2="463.6" stroke-width="1.4"/>
<line x1="583.3" y1="411" x2="583.3" y2="463.6" stroke-width="1.4"/>
<path d="M565.4,411 L575,411 L576,408.5 L576.8,413.5 L578,411 L583.3,411" stroke-width="1.2" fill="none"/>
<path d="M565.4,463.6 L575,463.6 L576,461 L576.8,466 L578,463.6 L583.3,463.6" stroke-width="1.2" fill="none"/>
<line x1="576.3" y1="405.8" x2="576.3" y2="409" stroke-width="1.1"/>
<line x1="576.6" y1="465" x2="576.6" y2="468" stroke-width="1.1"/>
<rect x="565.4" y="422.7" width="1.9" height="8.7" rx="0.8" stroke-width="1" fill="none"/>
<rect x="580.9" y="422.7" width="2" height="5.8" rx="0.8" stroke-width="1" fill="none"/>
<line x1="549.7" y1="422.7" x2="562.1" y2="422.7" stroke-width="1.3"/>
<line x1="549.7" y1="432.9" x2="582.6" y2="432.9" stroke-width="1.1"/>
<line x1="565.4" y1="434.4" x2="583.3" y2="434.4" stroke-width="0.9"/>
<line x1="565.4" y1="441.6" x2="583.3" y2="441.6" stroke-width="1.1" stroke-dasharray="3.5 2"/>
<line x1="549.7" y1="420.5" x2="549.7" y2="435.8" stroke-width="1.3"/>
<line x1="547.7" y1="424.7" x2="551.7" y2="420.7" stroke-width="1.2"/>
<line x1="547.7" y1="434.9" x2="551.7" y2="430.9" stroke-width="1.2"/>
<text x="546.8" y="431.4" font-size="6.38" textLength="15.4" lengthAdjust="spacingAndGlyphs" font-style="italic" font-weight="normal" transform="rotate(-90 546.8 431.4)">250</text>
<text x="541.7" y="456.3" font-size="9.57" textLength="4.3" lengthAdjust="spacingAndGlyphs" font-style="italic" font-weight="normal" font-family="Liberation Sans">2</text>
<path d="M538.8,458.5 L554.8,458.5 L565.8,432.9" stroke-width="1.3" fill="none"/>
<line x1="554.8" y1="458.5" x2="581.9" y2="427" stroke-width="1.3"/>
</svg>
</body></html>
